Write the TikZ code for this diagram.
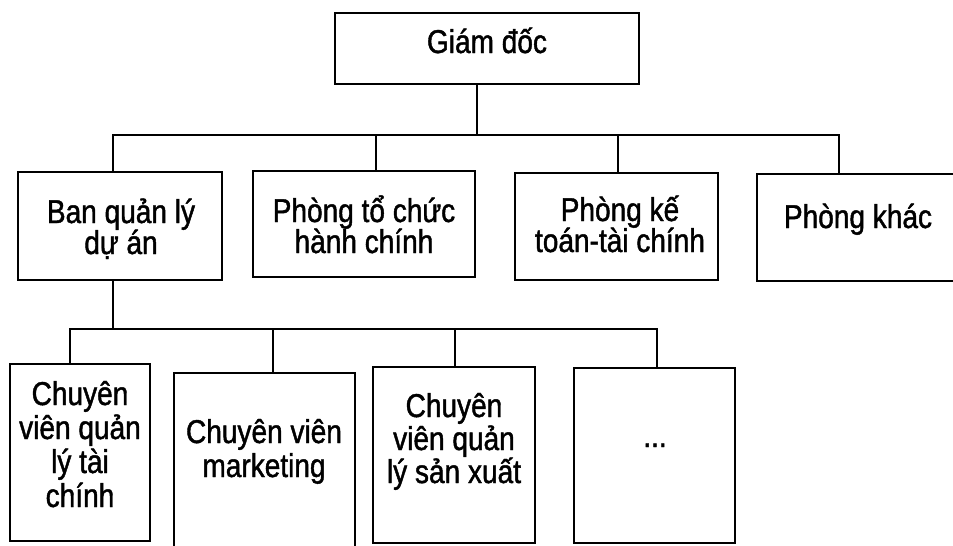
\documentclass[tikz,border=0pt]{standalone}
\usepackage{fontspec}
\newfontfamily\orgfont[FakeStretch=0.85,FakeBold=1.3]{Liberation Sans}
\newcommand\mlines[2]{\vtop{\baselineskip=#1\lineskiplimit=-100pt\lineskip=0pt\halign{\hfil##\hfil\cr#2\crcr}}}
\begin{document}
\begin{tikzpicture}[x=1pt,y=-1pt,
  box/.style={draw, line width=2pt, inner sep=0pt},
  lbl/.style={inner sep=0pt, anchor=base, font=\orgfont\fontsize{33}{34}\selectfont},
  conn/.style={line width=2pt}]
\clip (0,0) rectangle (953,546);
\fill[white] (0,0) rectangle (953,546);
% boxes
\node[box, minimum width=304pt, minimum height=71pt] (g) at (487,48.5) {};
\node[box, minimum width=204pt, minimum height=108pt] (b1) at (120,226) {};
\node[box, minimum width=222pt, minimum height=106pt] (b2) at (364,224) {};
\node[box, minimum width=203pt, minimum height=107pt] (b3) at (616.5,226.5) {};
\node[box, minimum width=205pt, minimum height=107pt] (b4) at (859.5,227.5) {};
\node[box, minimum width=140pt, minimum height=177pt] (a) at (80,452.5) {};
\node[box, minimum width=181pt, minimum height=182pt] (bb) at (264.5,464) {};
\node[box, minimum width=162pt, minimum height=176pt] (c) at (454,455) {};
\node[box, minimum width=161pt, minimum height=175pt] (d) at (654.5,455.5) {};
% labels
\node[lbl] (gt) at (487,53) {Giám đốc};
\node[lbl] (b1t) at (121,223) {\mlines{31pt}{Ban quản lý\cr dự án}};
\node[lbl] (b2t) at (364,222) {\mlines{31pt}{Phòng tổ chức\cr hành chính}};
\node[lbl] (b3t) at (620,221) {\mlines{31pt}{Phòng kế\cr toán-tài chính}};
\node[lbl] (b4t) at (858,228) {Phòng khác};
\node[lbl] (at) at (80,405) {\mlines{34pt}{Chuyên\cr viên quản\cr lý tài\cr chính}};
\node[lbl] (bbt) at (264,443) {\mlines{34pt}{Chuyên viên\cr marketing}};
\node[lbl] (ct) at (454,417) {\mlines{33pt}{Chuyên\cr viên quản\cr lý sản xuất}};
\node[lbl] (dt) at (655,447) {...};
% connectors level 1
\coordinate (j0) at (477,135);
\coordinate (j1L) at (113,135);
\coordinate (j1R) at (839,135);
\coordinate (d2) at (376,135);
\coordinate (d3) at (618,135);
\draw[conn] (g.south -| j0) -- (j0);
\draw[conn] (b1.north -| j1L) |- (j1R) -- (b4.north -| j1R);
\draw[conn] (d2) -- (d2 |- b2.north);
\draw[conn] (d3) -- (d3 |- b3.north);
% connectors level 2
\coordinate (k0) at (113,329);
\coordinate (k1L) at (70,329);
\coordinate (k1R) at (657,329);
\coordinate (k2) at (273,329);
\coordinate (k3) at (455,329);
\draw[conn] (b1.south -| k0) -- (k0);
\draw[conn] (a.north -| k1L) |- (k1R) -- (d.north -| k1R);
\draw[conn] (k2) -- (k2 |- bb.north);
\draw[conn] (k3) -- (k3 |- c.north);
\end{tikzpicture}
\end{document}
